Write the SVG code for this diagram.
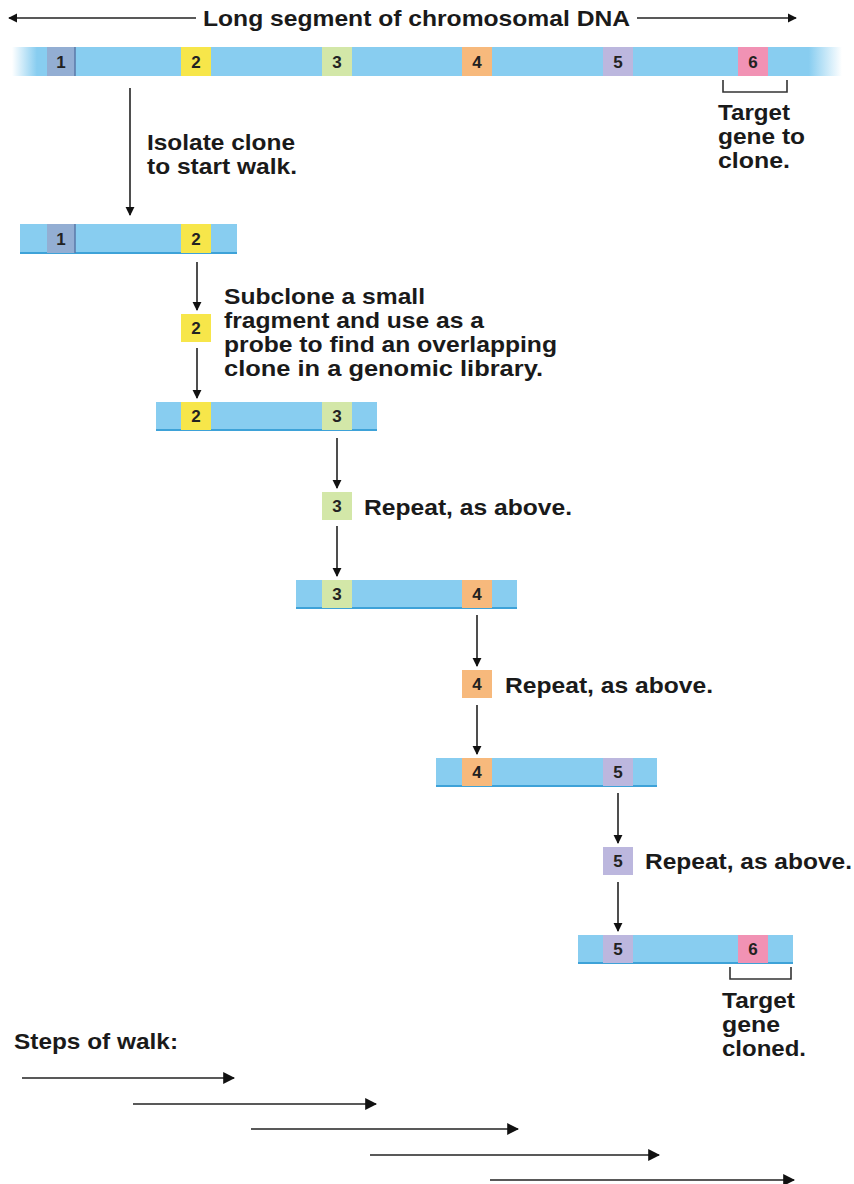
<svg xmlns="http://www.w3.org/2000/svg" width="854" height="1184" viewBox="0 0 854 1184">
<style>
.t{font-family:"Liberation Sans",Arial,sans-serif;font-weight:bold;font-size:22px;fill:#1a1a1a}
.n{font-family:"Liberation Sans",Arial,sans-serif;font-weight:bold;font-size:17px;fill:#222;text-anchor:middle}
.bar{fill:#88cdf0}
.edge{stroke:#3ea2d8;stroke-width:2}
.c{stroke:#222;stroke-width:1.6;fill:none}
.g1{fill:#93aed3}.g2{fill:#f7e64a}.g3{fill:#d3e7a8}.g4{fill:#f7b97c}.g5{fill:#bcb7de}.g6{fill:#f192b4}
.br{stroke:#333;stroke-width:1.6;fill:none}
</style>
<defs>
<marker id="ah" viewBox="0 0 10 10" refX="9" refY="5" markerWidth="9" markerHeight="10" orient="auto-start-reverse" markerUnits="userSpaceOnUse">
<path d="M0,0 L10,5 L0,10 z" fill="#111"/>
</marker>
<marker id="ah2" viewBox="0 0 10 10" refX="9" refY="5" markerWidth="12" markerHeight="12" orient="auto" markerUnits="userSpaceOnUse">
<path d="M0,0 L10,5 L0,10 z" fill="#111"/>
</marker>
<linearGradient id="fade" x1="0" x2="1" y1="0" y2="0">
<stop offset="0" stop-color="#88cdf0" stop-opacity="0"/>
<stop offset="0.03" stop-color="#88cdf0" stop-opacity="1"/>
<stop offset="0.96" stop-color="#88cdf0" stop-opacity="1"/>
<stop offset="1" stop-color="#88cdf0" stop-opacity="0"/>
</linearGradient>
</defs>

<g id="title">
<line class="c" x1="9" y1="18" x2="196" y2="18" marker-start="url(#ah)"/>
<line class="c" x1="637" y1="18" x2="796" y2="18" marker-end="url(#ah)"/>
<text class="t" x="203" y="26" textLength="427" lengthAdjust="spacingAndGlyphs">Long segment of chromosomal DNA</text>
</g>

<g id="chromosome">
<rect x="12" y="47" width="830" height="29" fill="url(#fade)"/>
<rect class="g1" x="47" y="47" width="28" height="29"/>
<line x1="75" y1="47" x2="75" y2="76" stroke="#5a78a8" stroke-width="1.5"/>
<text class="n" x="61" y="68">1</text>
<rect class="g2" x="181" y="47" width="30" height="29"/><text class="n" x="196" y="68">2</text>
<rect class="g3" x="322" y="47" width="30" height="29"/><text class="n" x="337" y="68">3</text>
<rect class="g4" x="462" y="47" width="30" height="29"/><text class="n" x="477" y="68">4</text>
<rect class="g5" x="603" y="47" width="30" height="29"/><text class="n" x="618" y="68">5</text>
<rect class="g6" x="738" y="47" width="30" height="29"/><text class="n" x="753" y="68">6</text>
<path class="br" d="M723,80 V92 H787 V80"/>
<text class="t" x="718" y="120" textLength="72" lengthAdjust="spacingAndGlyphs">Target</text>
<text class="t" x="718" y="144" textLength="87" lengthAdjust="spacingAndGlyphs">gene to</text>
<text class="t" x="718" y="168" textLength="72" lengthAdjust="spacingAndGlyphs">clone.</text>
</g>

<g id="step-label-1">
<text class="t" x="147" y="150" textLength="148" lengthAdjust="spacingAndGlyphs">Isolate clone</text>
<text class="t" x="147" y="174" textLength="150" lengthAdjust="spacingAndGlyphs">to start walk.</text>
</g>

<g id="clone1">
<rect class="bar" x="20" y="224" width="217" height="29"/>
<line class="edge" x1="20" y1="253" x2="237" y2="253"/>
<rect class="g1" x="47" y="224" width="28" height="29"/>
<line x1="75" y1="224" x2="75" y2="253" stroke="#5a78a8" stroke-width="1.5"/>
<text class="n" x="61" y="245">1</text>
<rect class="g2" x="181" y="224" width="30" height="29"/><text class="n" x="196" y="245">2</text>
</g>

<g id="probe2">
<rect class="g2" x="181" y="314" width="30" height="28"/><text class="n" x="196" y="334">2</text>
<text class="t" x="224" y="304" textLength="201" lengthAdjust="spacingAndGlyphs">Subclone a small</text>
<text class="t" x="224" y="328" textLength="260" lengthAdjust="spacingAndGlyphs">fragment and use as a</text>
<text class="t" x="224" y="352" textLength="333" lengthAdjust="spacingAndGlyphs">probe to find an overlapping</text>
<text class="t" x="224" y="376" textLength="319" lengthAdjust="spacingAndGlyphs">clone in a genomic library.</text>
</g>

<g id="clone2">
<rect class="bar" x="156" y="402" width="221" height="28"/>
<line class="edge" x1="156" y1="430" x2="377" y2="430"/>
<rect class="g2" x="181" y="402" width="30" height="28"/><text class="n" x="196" y="422">2</text>
<rect class="g3" x="322" y="402" width="30" height="28"/><text class="n" x="337" y="422">3</text>
</g>

<g id="probe3">
<rect class="g3" x="322" y="492" width="30" height="28"/><text class="n" x="337" y="512">3</text>
<text class="t" x="364" y="515" textLength="208" lengthAdjust="spacingAndGlyphs">Repeat, as above.</text>
</g>

<g id="clone3">
<rect class="bar" x="296" y="580" width="221" height="28"/>
<line class="edge" x1="296" y1="608" x2="517" y2="608"/>
<rect class="g3" x="322" y="580" width="30" height="28"/><text class="n" x="337" y="600">3</text>
<rect class="g4" x="462" y="580" width="30" height="28"/><text class="n" x="477" y="600">4</text>
</g>

<g id="probe4">
<rect class="g4" x="462" y="670" width="30" height="28"/><text class="n" x="477" y="690">4</text>
<text class="t" x="505" y="693" textLength="208" lengthAdjust="spacingAndGlyphs">Repeat, as above.</text>
</g>

<g id="clone4">
<rect class="bar" x="436" y="758" width="221" height="28"/>
<line class="edge" x1="436" y1="786" x2="657" y2="786"/>
<rect class="g4" x="462" y="758" width="30" height="28"/><text class="n" x="477" y="778">4</text>
<rect class="g5" x="603" y="758" width="30" height="28"/><text class="n" x="618" y="778">5</text>
</g>

<g id="probe5">
<rect class="g5" x="603" y="847" width="30" height="28"/><text class="n" x="618" y="867">5</text>
<text class="t" x="645" y="869" textLength="207" lengthAdjust="spacingAndGlyphs">Repeat, as above.</text>
</g>

<g id="clone5">
<rect class="bar" x="578" y="935" width="215" height="28"/>
<line class="edge" x1="578" y1="963" x2="793" y2="963"/>
<rect class="g5" x="603" y="935" width="30" height="28"/><text class="n" x="618" y="955">5</text>
<rect class="g6" x="738" y="935" width="30" height="28"/><text class="n" x="753" y="955">6</text>
<path class="br" d="M730,967 V979 H791 V967"/>
<text class="t" x="722" y="1008" textLength="73" lengthAdjust="spacingAndGlyphs">Target</text>
<text class="t" x="722" y="1032" textLength="58" lengthAdjust="spacingAndGlyphs">gene</text>
<text class="t" x="722" y="1056" textLength="84" lengthAdjust="spacingAndGlyphs">cloned.</text>
</g>

<g id="steps">
<text class="t" x="14" y="1049" textLength="164" lengthAdjust="spacingAndGlyphs">Steps of walk:</text>
</g>

<g id="connectors">
<line class="c" x1="130" y1="88" x2="130" y2="215" marker-end="url(#ah)"/>
<line class="c" x1="197" y1="262" x2="197" y2="310" marker-end="url(#ah)"/>
<line class="c" x1="197" y1="348" x2="197" y2="398" marker-end="url(#ah)"/>
<line class="c" x1="337" y1="438" x2="337" y2="488" marker-end="url(#ah)"/>
<line class="c" x1="337" y1="526" x2="337" y2="576" marker-end="url(#ah)"/>
<line class="c" x1="477" y1="615" x2="477" y2="666" marker-end="url(#ah)"/>
<line class="c" x1="477" y1="705" x2="477" y2="754" marker-end="url(#ah)"/>
<line class="c" x1="618" y1="793" x2="618" y2="843" marker-end="url(#ah)"/>
<line class="c" x1="618" y1="882" x2="618" y2="931" marker-end="url(#ah)"/>
<line class="c" x1="22" y1="1078" x2="234" y2="1078" marker-end="url(#ah2)"/>
<line class="c" x1="133" y1="1104" x2="376" y2="1104" marker-end="url(#ah2)"/>
<line class="c" x1="251" y1="1129" x2="518" y2="1129" marker-end="url(#ah2)"/>
<line class="c" x1="370" y1="1155" x2="659" y2="1155" marker-end="url(#ah2)"/>
<line class="c" x1="490" y1="1180" x2="794" y2="1180" marker-end="url(#ah2)"/>
</g>
</svg>
